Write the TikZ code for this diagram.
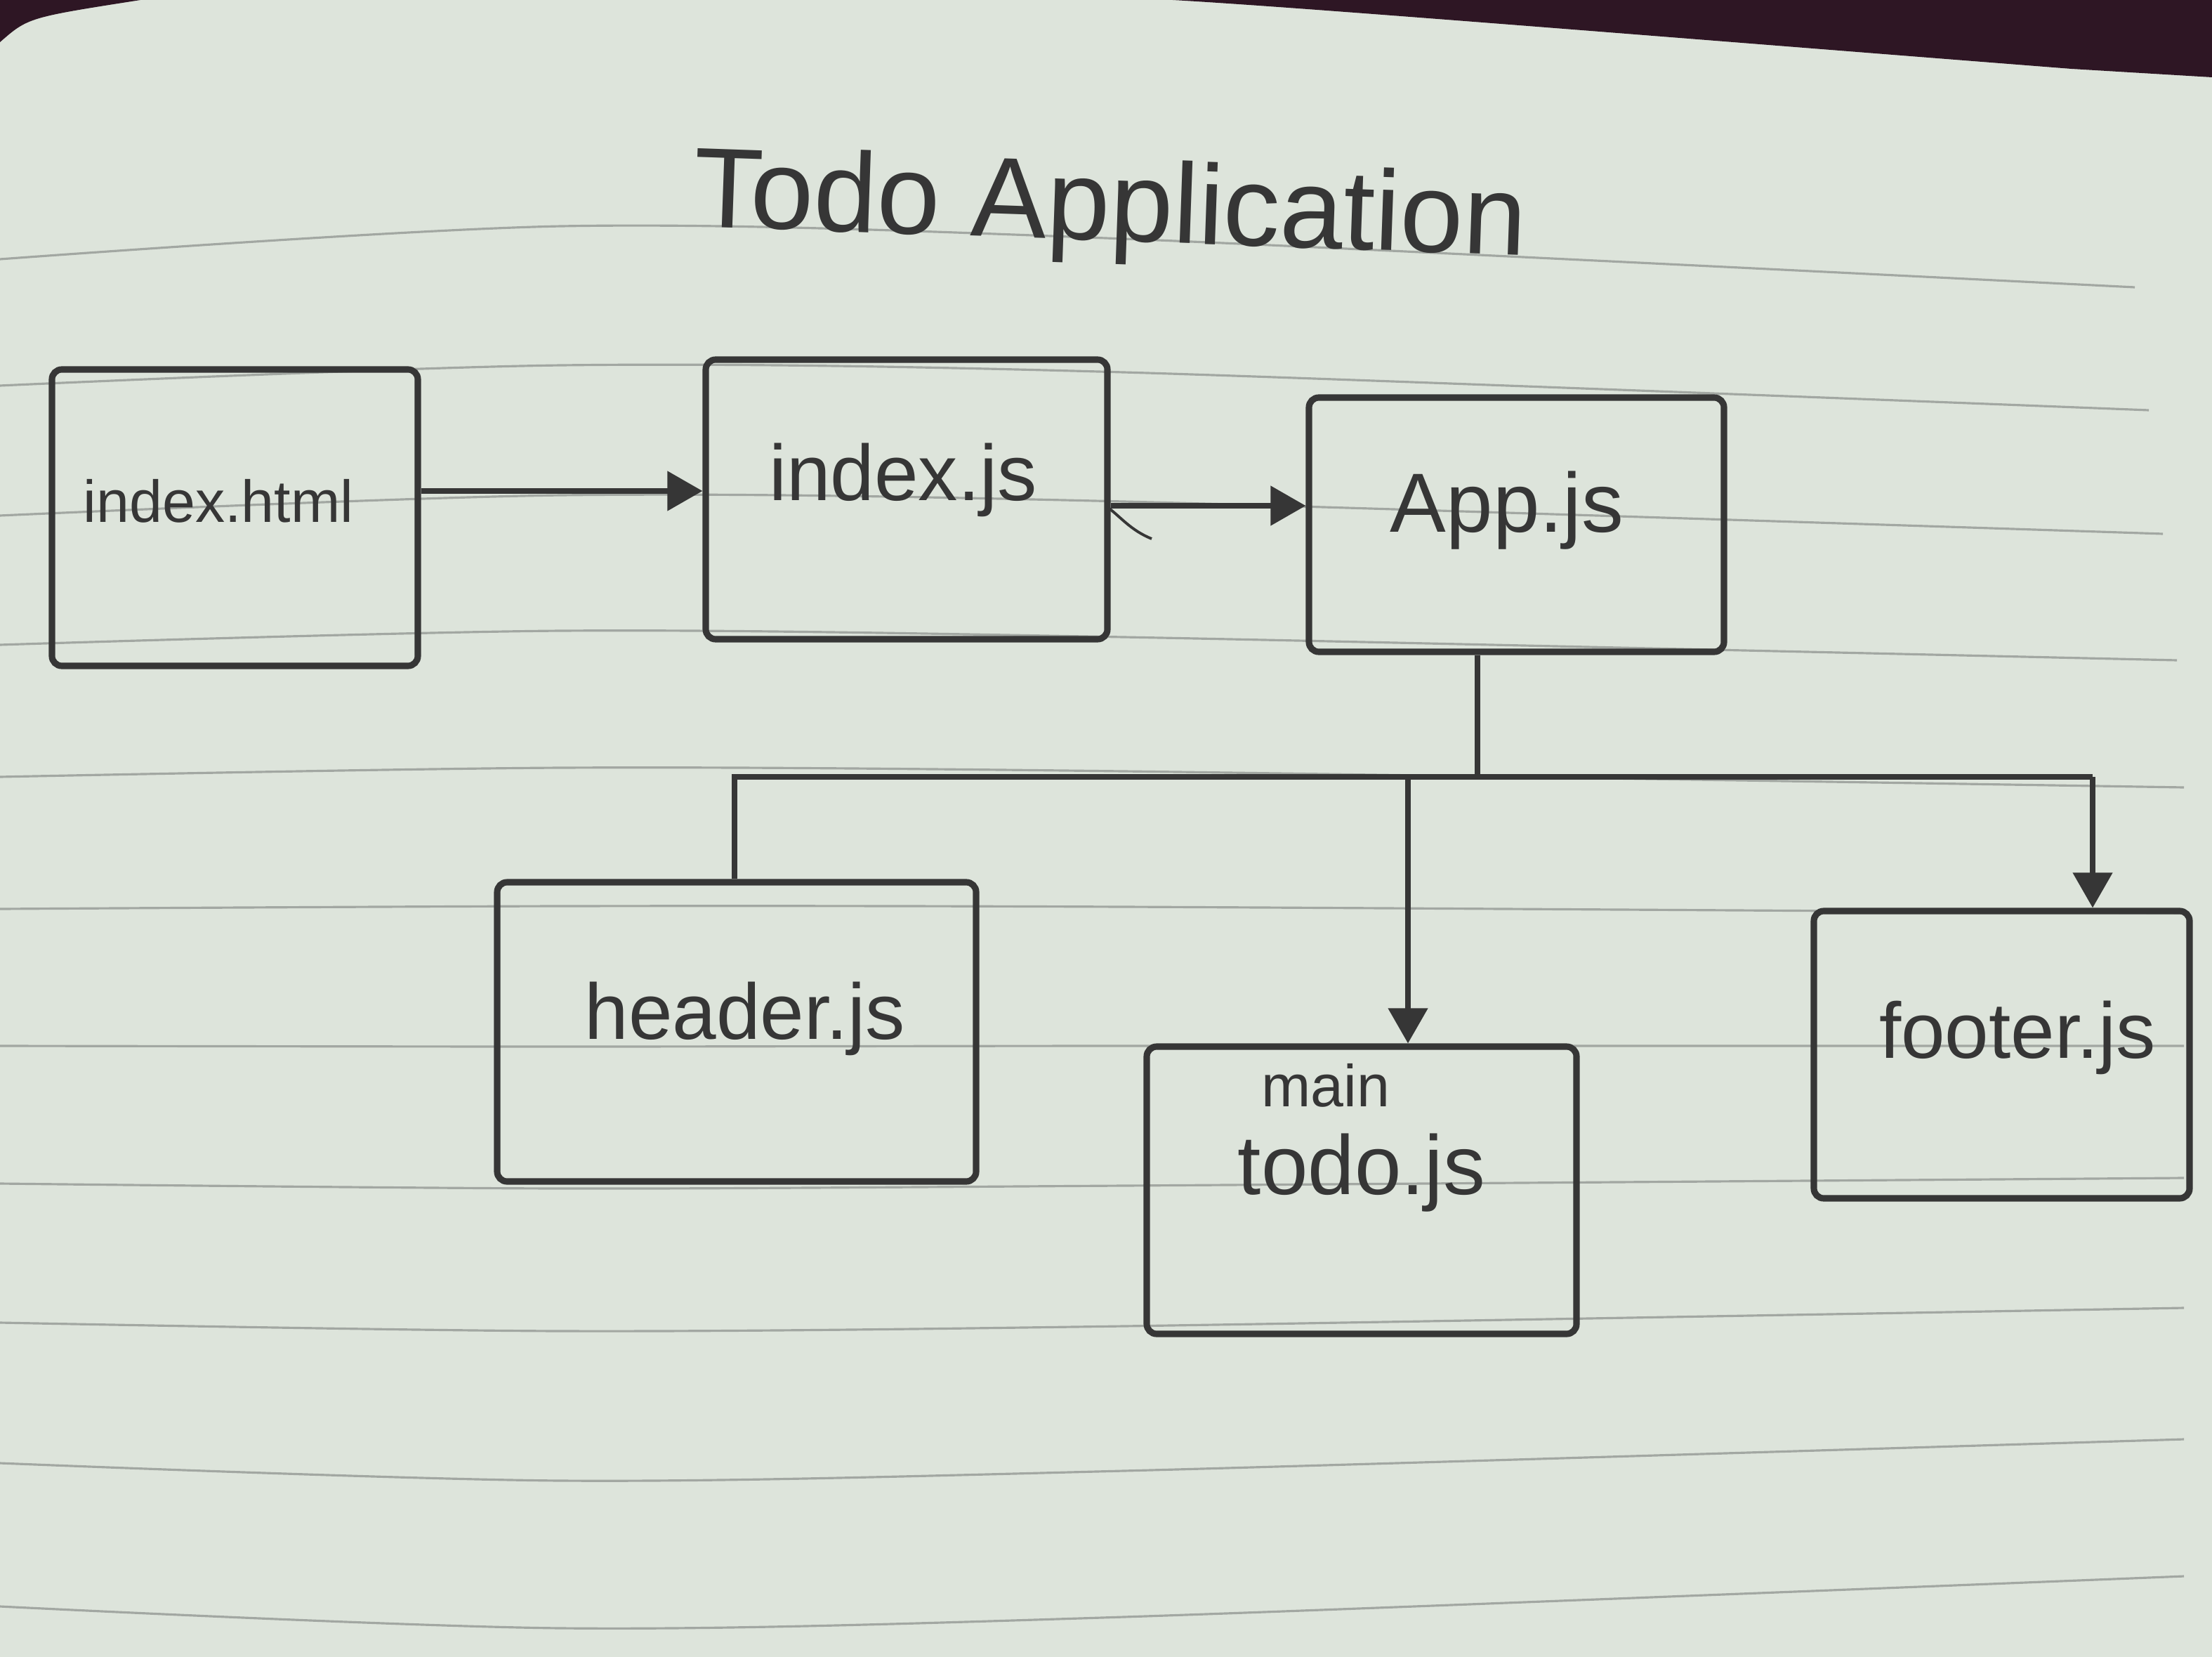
\documentclass[tikz,border=0pt]{standalone}
\usepackage{fontspec}
\setmainfont{Liberation Sans}
\usetikzlibrary{arrows.meta}
\definecolor{paper}{HTML}{DDE4DB}
\definecolor{desk}{HTML}{2E1624}
\definecolor{ink}{HTML}{363636}
\definecolor{rulec}{HTML}{A2A7A2}
\tikzset{
 box/.style={draw=ink, line width=2.6pt, rounded corners=4pt, inner sep=0pt},
 lbl/.style={text=ink, inner sep=0pt},
 wire/.style={draw=ink, line width=2.2pt},
 arr/.style={wire, -{Triangle[length=0.5cm,width=0.55cm]}},
 ruleline/.style={draw=rulec, line width=0.9pt}
}
\begin{document}
\begin{tikzpicture}
\fill[paper] (0,0) rectangle (31.5,-23.59);
\useasboundingbox (0,0) rectangle (31.5,-23.59);
% desk behind the page
\fill[desk] (16.7,0) .. controls (18.5,-0.1) and (24,-0.55) .. (29.5,-0.98) -- (31.5,-1.1) -- (31.5,0) -- cycle;
\fill[desk] (0,-0.6) .. controls (0.4,-0.25) .. (2.0,0) -- (0,0) -- cycle;
% ruled lines
\foreach \L/\A/\M/\R/\E in {3.69/3.22/3.40/4.09/30.4, 5.49/5.20/5.30/5.84/30.6, 7.34/7.05/7.14/7.60/30.8, 9.18/8.98/9.07/9.40/31.0, 11.06/10.93/10.98/11.21/31.1, 12.94/12.90/12.91/13.00/31.1, 14.89/14.90/14.89/14.89/31.1, 16.85/16.92/16.88/16.77/31.1, 18.83/18.95/18.88/18.62/31.1, 20.83/21.08/20.94/20.49/31.1, 22.87/23.18/23.02/22.44/31.1}
  \draw[ruleline] plot[smooth] coordinates {(0,-\L) (8,-\A) (16,-\M) (\E,-\R)};
% title
\node[lbl, font=\fontsize{46}{52}\selectfont, rotate=-2] (title) at (15.81,-3.01) {Todo Application};
% boxes
\node[box, minimum width=5.21cm, minimum height=4.22cm] (html) at (3.345,-7.37) {};
\node[box, minimum width=5.72cm, minimum height=3.98cm] (js) at (12.91,-7.11) {};
\node[box, minimum width=5.91cm, minimum height=3.62cm] (app) at (21.595,-7.47) {};
\node[box, minimum width=6.82cm, minimum height=4.26cm] (hdr) at (10.49,-14.69) {};
\node[box, minimum width=6.12cm, minimum height=4.09cm] (todo) at (19.39,-16.945) {};
\node[box, minimum width=5.35cm, minimum height=4.09cm] (foot) at (28.505,-15.015) {};
% labels
\node[lbl, font=\fontsize{24}{28}\selectfont] (thtml) at (3.11,-7.13) {index.html};
\node[lbl, font=\fontsize{32}{36}\selectfont] (tjs) at (12.86,-6.83) {index.js};
\node[lbl, font=\fontsize{34}{38}\selectfont] (tapp) at (21.46,-7.27) {App.js};
\node[lbl, font=\fontsize{32}{36}\selectfont] (thdr) at (10.61,-14.50) {header.js};
\node[lbl, font=\fontsize{24}{28}\selectfont] (tmain) at (18.88,-15.45) {main};
\node[lbl, font=\fontsize{34}{38}\selectfont] (ttodo) at (19.39,-16.70) {todo.js};
\node[lbl, font=\fontsize{32}{36}\selectfont] (tfoot) at (28.73,-14.77) {footer.js};
% connectors
\draw[arr] (html.east |- 0,-6.99) -- (js.west |- 0,-6.99);
\draw[arr] (js.east |- 0,-7.20) -- (app.west |- 0,-7.20);
\draw[ink, line width=1.1pt] (15.77,-7.22) .. controls (15.95,-7.35) and (16.1,-7.55) .. (16.4,-7.67);
\coordinate (jn) at (21.04,-11.06);
\coordinate (jl) at (10.46,-11.06);
\coordinate (jm) at (20.05,-11.06);
\coordinate (jr) at (29.80,-11.06);
\draw[wire] (jn |- app.south) -- (jn);
\draw[wire] (jl |- hdr.north) -- (jl) -- (jr);
\draw[arr] (jm) -- (jm |- todo.north);
\draw[arr] (jr) -- (jr |- foot.north);
\end{tikzpicture}
\end{document}
